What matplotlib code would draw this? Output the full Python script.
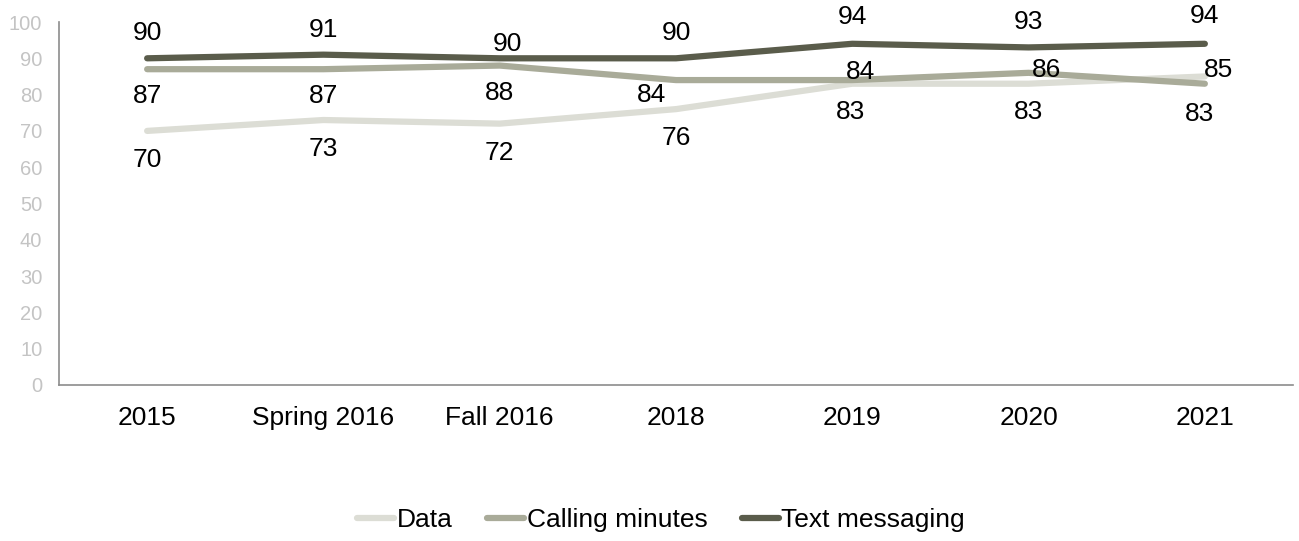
import matplotlib
matplotlib.use("Agg")
import matplotlib.pyplot as plt

plt.rcParams['font.family'] = ['Liberation Sans', 'DejaVu Sans']

periods = ['2015', 'Spring 2016', 'Fall 2016', '2018', '2019', '2020', '2021']
data = [70, 73, 72, 76, 83, 83, 85]
calling = [87, 87, 88, 84, 84, 86, 83]
texting = [90, 91, 90, 90, 94, 93, 94]

# label offsets in pixels (dx, dy)
data_off = [(0, -29), (0, -29), (0, -29), (0, -29), (-2, -28), (0, -28), (14, 6)]
calling_off = [(0, -27), (0, -27), (0, -27), (-24, -15), (8, 8), (18, 3), (-5, -30)]
texting_off = [(0, 25), (0, 25), (8, 14), (0, 25), (0, 27), (0, 25), (0, 28)]

fig = plt.figure(figsize=(12.99, 5.41), dpi=100)
ax = fig.add_axes([59 / 1299, 1 - 385 / 541, 1234 / 1299, 363 / 541])

x = range(len(periods))
series = [
    ('Data', data, '#dcddd5', data_off),
    ('Calling minutes', calling, '#a9ab99', calling_off),
    ('Text messaging', texting, '#5a5c4b', texting_off),
]
for name, vals, col, offs in series:
    ax.plot(x, vals, color=col, lw=4.5, solid_capstyle='round', label=name)
for name, vals, col, offs in series:
    for i, v in enumerate(vals):
        ax.annotate(str(v), (i, v), xytext=offs[i], textcoords='offset pixels',
                    ha='center', va='center', fontsize=19, color='black')

ax.set_xlim(-0.5, len(periods) - 0.5)
ax.set_ylim(0, 100)
ax.set_yticks(range(0, 101, 10))
ax.set_xticks(list(x))
ax.set_xticklabels(periods, fontsize=19)
ax.tick_params(axis='y', length=0, labelsize=14.5, labelcolor='#c4c4c4', pad=12)
ax.tick_params(axis='x', length=0, pad=15)
for s in ['top', 'right']:
    ax.spines[s].set_visible(False)
for s in ['left', 'bottom']:
    ax.spines[s].set_color('#8c8c8c')
    ax.spines[s].set_linewidth(1.2)

fig.legend(loc='center', bbox_to_anchor=(0.509, 1 - 520 / 541), ncol=3, frameon=False,
           fontsize=19, handlelength=1.4, handletextpad=0.1, columnspacing=1.3)

fig.savefig('out.png', dpi=100)
